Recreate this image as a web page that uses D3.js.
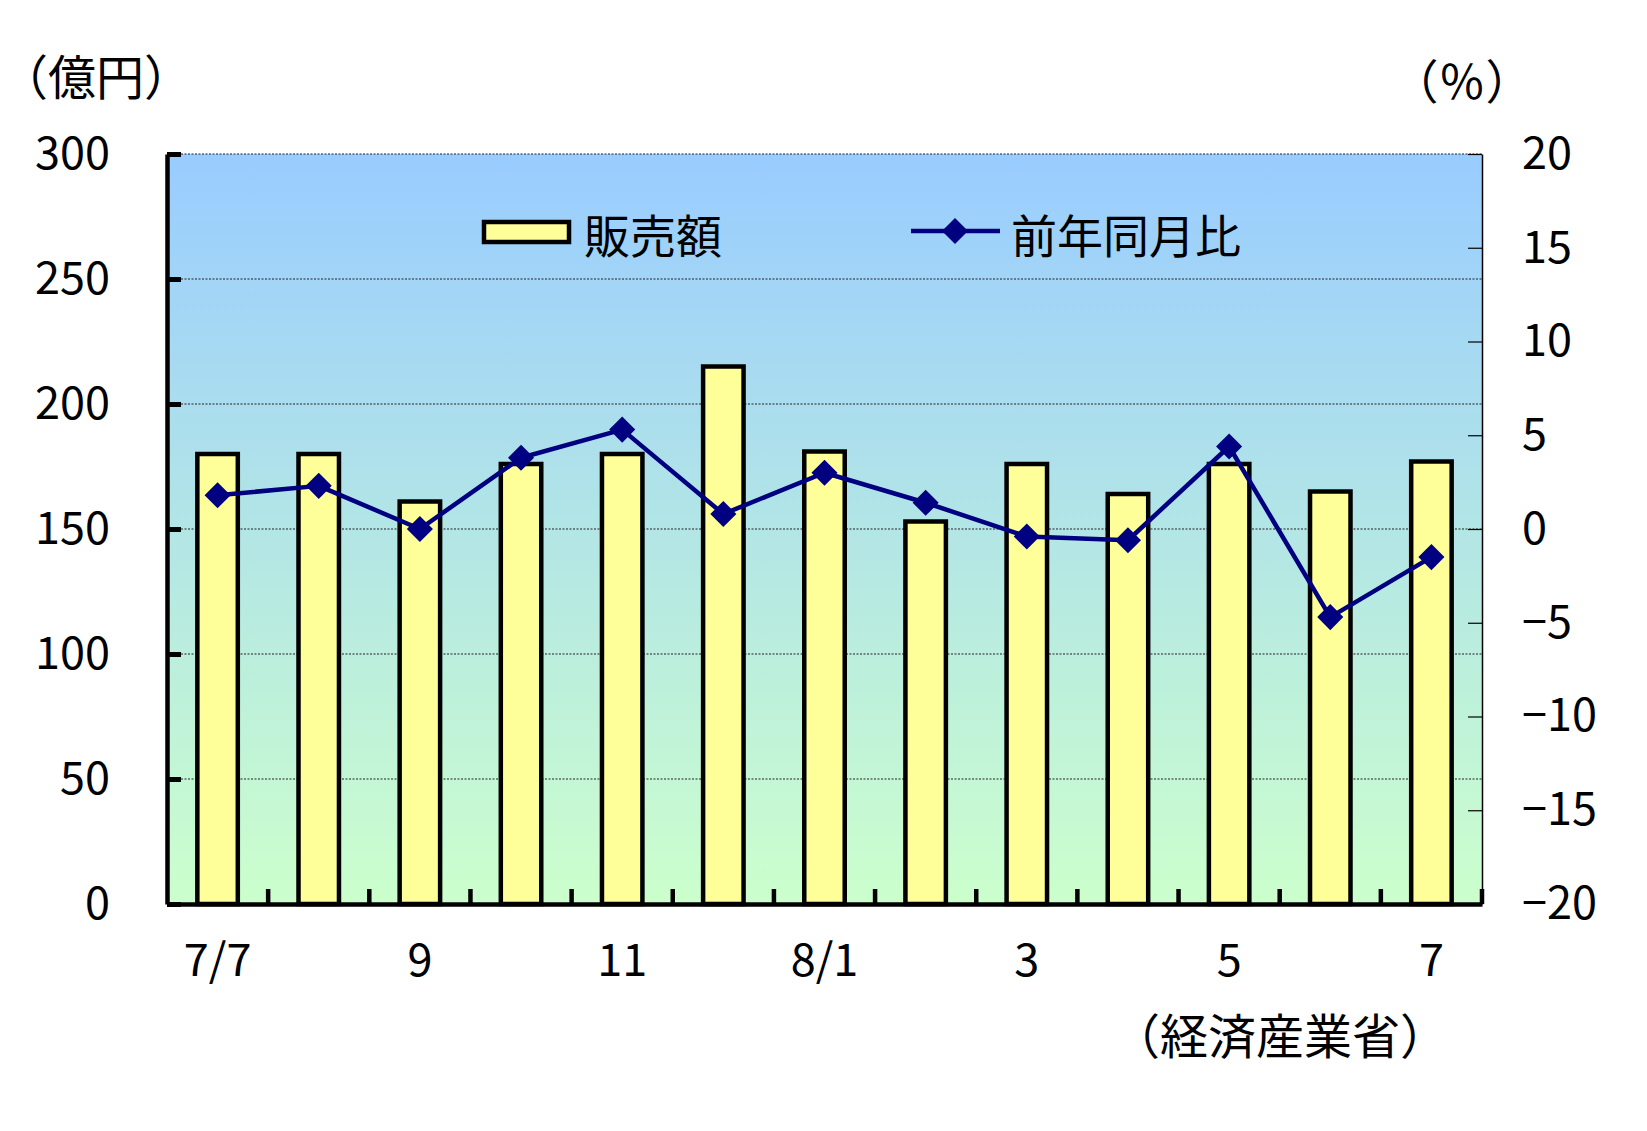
<!DOCTYPE html>
<html>
<head>
<meta charset="utf-8">
<script src="https://cdn.jsdelivr.net/npm/d3@7"></script>
<style>
html,body{margin:0;padding:0;background:#fff;}
text{font-family:"Noto Sans CJK JP","Noto Sans",sans-serif;fill:#000;}
</style>
</head>
<body>
<svg id="chart" width="1647" height="1131"></svg>
<script>
// ---- data ----
const categories = ["7/7","8","9","10","11","12","8/1","2","3","4","5","6","7"];
const xTickLabels = ["7/7","9","11","8/1","3","5","7"];
const sales = [180,180,161,176,180,215,181,153,176,164,176,165,177];      // 販売額 (億円)
const yoy = [1.8,2.3,0.0,3.8,5.3,0.8,3.0,1.4,-0.4,-0.6,4.4,-4.7,-1.5];    // 前年同月比 (%)
const leftTicks = [0,50,100,150,200,250,300];
const rightTicks = [-20,-15,-10,-5,0,5,10,15,20];
const seriesNames = ["販売額","前年同月比"];

// ---- layout ----
const L = 167, R = 1482, T = 154, B = 904;
const svg = d3.select("#chart");

const x = d3.scaleBand().domain(categories).range([L, R]);
const yL = d3.scaleLinear().domain([0,300]).range([B, T]);
const yR = d3.scaleLinear().domain([-20,20]).range([B, T]);

// background gradient
const defs = svg.append("defs");
const grad = defs.append("linearGradient").attr("id","bg").attr("x1",0).attr("y1",0).attr("x2",0).attr("y2",1);
grad.append("stop").attr("offset","0%").attr("stop-color","#99CCFF");
grad.append("stop").attr("offset","100%").attr("stop-color","#CCFFCC");
svg.append("rect").attr("x",L).attr("y",T).attr("width",R-L).attr("height",B-T).attr("fill","url(#bg)");

// gridlines
svg.append("g").selectAll("line").data(leftTicks.filter(d=>d>0)).join("line")
  .attr("x1",L).attr("x2",R).attr("y1",d=>yL(d)).attr("y2",d=>yL(d))
  .attr("stroke","#222").attr("stroke-width",1.2).attr("stroke-dasharray","2,1.5");

// bars
const bw = x.bandwidth()*0.4;
svg.append("g").selectAll("rect").data(sales).join("rect")
  .attr("x",(d,i)=>x(categories[i]) + x.bandwidth()/2 - bw/2)
  .attr("y",d=>yL(d))
  .attr("width",bw)
  .attr("height",d=>B-yL(d))
  .attr("fill","#FFFF99").attr("stroke","#000").attr("stroke-width",4.5);

// line
const cx = i => x(categories[i]) + x.bandwidth()/2;
const line = d3.line().x((d,i)=>cx(i)).y(d=>yR(d));
svg.append("path").datum(yoy).attr("d",line)
  .attr("fill","none").attr("stroke","#000080").attr("stroke-width",4.5).attr("stroke-linejoin","round");
const diamond = d3.symbol().type(d3.symbolSquare).size(340);
svg.append("g").selectAll("path").data(yoy).join("path")
  .attr("d",diamond)
  .attr("transform",(d,i)=>`translate(${cx(i)},${yR(d)}) rotate(45)`)
  .attr("fill","#000080");

// right axis (thin)
const ra = svg.append("g").attr("transform",`translate(${R},0)`)
  .call(d3.axisRight(yR).tickValues(rightTicks).tickSize(-14).tickPadding(40).tickSizeOuter(0));
ra.select(".domain").attr("stroke","#000").attr("stroke-width",1.5);
ra.selectAll(".tick line").attr("stroke","#000").attr("stroke-width",1.2);
ra.selectAll(".tick text").style("font-size","45px").style("font-family",'"Noto Sans CJK JP"').attr("fill","#000");

// left axis (thick)
const la = svg.append("g").attr("transform",`translate(${L},0)`)
  .call(d3.axisLeft(yL).tickValues(leftTicks).tickSize(-14).tickPadding(57).tickSizeOuter(0));
la.select(".domain").attr("stroke","#000").attr("stroke-width",4.5);
la.selectAll(".tick line").attr("stroke","#000").attr("stroke-width",5);
la.selectAll(".tick text").style("font-size","45px").style("font-family",'"Noto Sans CJK JP"').attr("fill","#000");

// bottom axis
const ba = svg.append("g").attr("transform",`translate(0,${B})`)
  .call(d3.axisBottom(x).tickSize(0).tickPadding(40).tickSizeOuter(0)
    .tickFormat(d=>xTickLabels.includes(d) && categories.indexOf(d)%2===0 ? d : ""));
ba.select(".domain").attr("stroke","#000").attr("stroke-width",4.5);
ba.selectAll(".tick text").style("font-size","45px").style("font-family",'"Noto Sans CJK JP"').attr("fill","#000");
// category boundary tick marks
const bounds = categories.slice(1).map(c=>x(c)).concat([R]);
svg.append("g").selectAll("line").data(bounds).join("line")
  .attr("x1",d=>d).attr("x2",d=>d).attr("y1",B).attr("y2",B-15)
  .attr("stroke","#000").attr("stroke-width",4.5);

// legend
svg.append("rect").attr("x",484).attr("y",222).attr("width",85).attr("height",20)
  .attr("fill","#FFFF99").attr("stroke","#000").attr("stroke-width",4.5);
svg.append("text").attr("x",584).attr("y",233).attr("dominant-baseline","central")
  .style("font-size","46px").text(seriesNames[0]);
svg.append("line").attr("x1",911).attr("x2",1000).attr("y1",231).attr("y2",231)
  .attr("stroke","#000080").attr("stroke-width",4.5);
svg.append("path").attr("d",diamond).attr("transform","translate(955,231) rotate(45)").attr("fill","#000080");
svg.append("text").attr("x",1011).attr("y",233).attr("dominant-baseline","central")
  .style("font-size","46px").text(seriesNames[1]);

// unit labels & source
svg.append("text").attr("x",96).attr("y",74).attr("text-anchor","middle").attr("dominant-baseline","central")
  .style("font-size","48px").text("（億円）");
svg.append("text").attr("x",1462).attr("y",78).attr("text-anchor","middle").attr("dominant-baseline","central")
  .style("font-size","47px").text("（％）");
svg.append("text").attr("x",1280).attr("y",1033).attr("text-anchor","middle").attr("dominant-baseline","central")
  .style("font-size","48px").text("（経済産業省）");
</script>
</body>
</html>
